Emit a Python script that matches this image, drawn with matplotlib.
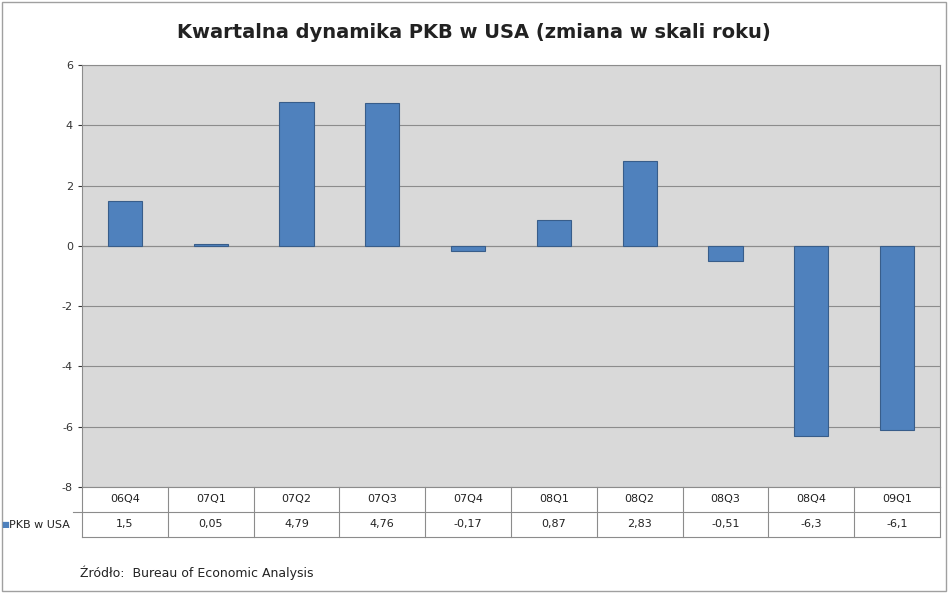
import matplotlib.pyplot as plt
from matplotlib.patches import Rectangle
from matplotlib.transforms import blended_transform_factory

plt.rcParams['axes.unicode_minus'] = False

kwartaly = ['06Q4', '07Q1', '07Q2', '07Q3', '07Q4', '08Q1', '08Q2', '08Q3', '08Q4', '09Q1']
pkb = [1.5, 0.05, 4.79, 4.76, -0.17, 0.87, 2.83, -0.51, -6.3, -6.1]
yticks = [-8, -6, -4, -2, 0, 2, 4, 6]
seria = 'PKB w USA'

fig = plt.figure(figsize=(9.48, 5.93), dpi=100)
fig.patch.set_facecolor('white')
fig.patches.append(Rectangle((0.002, 0.003), 0.996, 0.994, transform=fig.transFigure,
                             fill=False, edgecolor='#a0a0a0', lw=1))

ax = fig.add_axes([0.0865, 0.179, 0.905, 0.711])
ax.set_facecolor('#d9d9d9')
x = list(range(len(kwartaly)))
ax.bar(x, pkb, width=0.4, color='#4f81bd', edgecolor='#385d8a', lw=0.8, zorder=3)
ax.set_xlim(-0.5, len(kwartaly) - 0.5)
ax.set_ylim(-8, 6)
ax.set_yticks(yticks)
ax.tick_params(axis='y', labelsize=8, length=3, colors='#333333')
ax.set_xticks([])
ax.grid(axis='y', color='#8c8c8c', lw=0.8, zorder=0)
ax.axhline(0, color='#8c8c8c', lw=0.8, zorder=1)
for s in ax.spines.values():
    s.set_color('#8c8c8c')

# tabela danych pod wykresem
tr = blended_transform_factory(ax.transData, ax.transAxes)
h = 25 / 422  # wysokosc wiersza w jednostkach osi
for i, (k, v) in enumerate(zip(kwartaly, pkb)):
    ax.text(i, -h / 2, k, transform=tr, ha='center', va='center', fontsize=8, color='#222222')
    ax.text(i, -1.5 * h, f"{v:g}".replace('.', ','), transform=tr, ha='center', va='center',
            fontsize=8, color='#222222')
for b in [i - 0.5 for i in range(len(kwartaly) + 1)]:
    ax.plot([b, b], [0, -2 * h], transform=tr, color='#8c8c8c', lw=0.8, clip_on=False)
ax.plot([-0.5, len(kwartaly) - 0.5], [-h, -h], transform=tr, color='#8c8c8c', lw=0.8, clip_on=False)
ax.plot([-0.5, len(kwartaly) - 0.5], [-2 * h, -2 * h], transform=tr, color='#8c8c8c', lw=0.8, clip_on=False)
ax.plot([-0.6, -0.5], [-h, -h], transform=tr, color='#8c8c8c', lw=0.8, clip_on=False)

fig.text(0.001, 1 - 524.5 / 593, '\u25a0', color='#4f81bd', fontsize=6, va='center')
fig.text(0.009, 1 - 524.5 / 593, seria, fontsize=8, va='center', color='#222222')

fig.text(0.5, 1 - 33 / 593, 'Kwartalna dynamika PKB w USA (zmiana w skali roku)',
         ha='center', va='center', fontsize=14, fontweight='bold', color='#222222')
fig.text(80 / 948, 1 - 573 / 593, 'Źródło:  Bureau of Economic Analysis',
         ha='left', va='center', fontsize=9, color='#222222')

fig.savefig('out.png', dpi=100)
